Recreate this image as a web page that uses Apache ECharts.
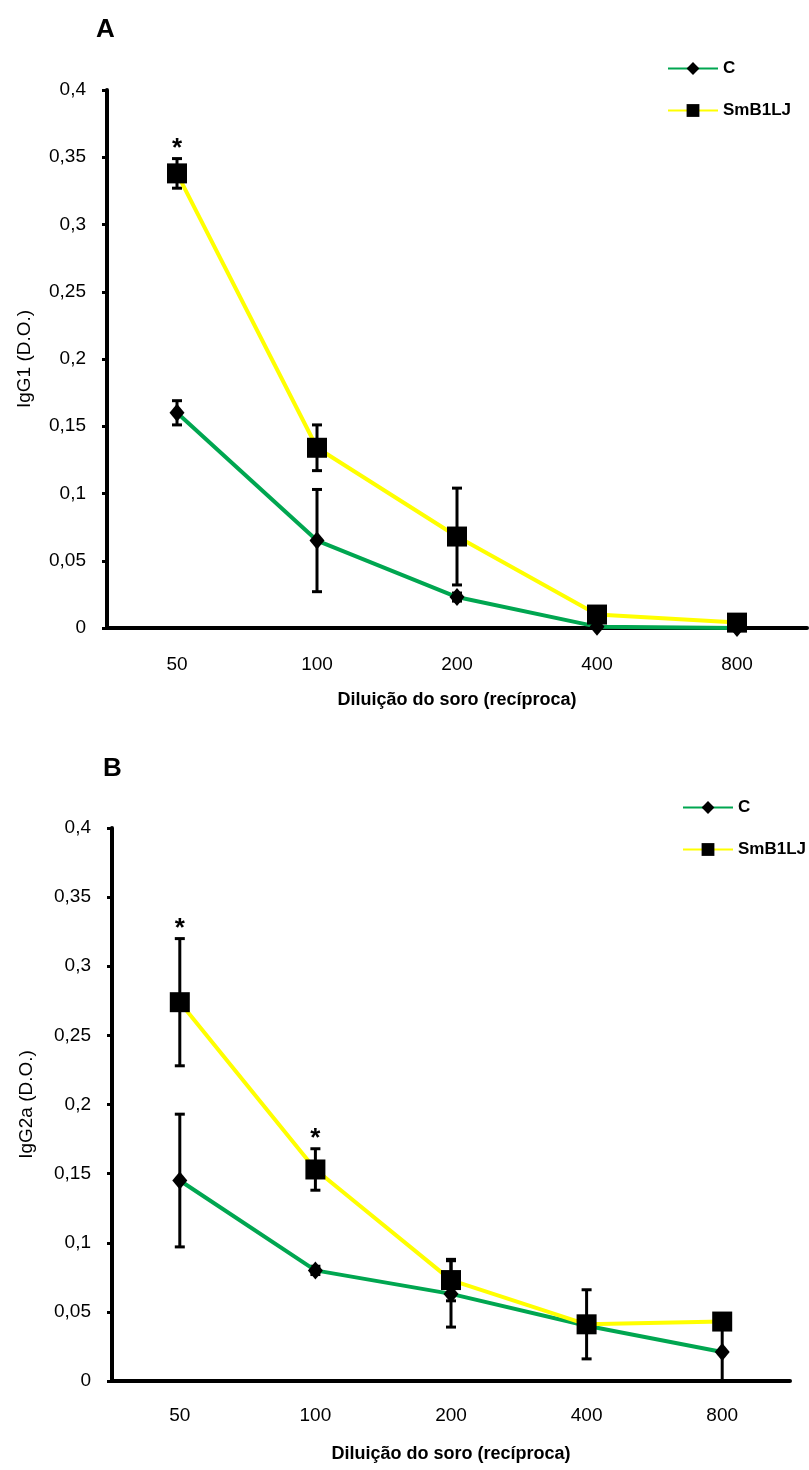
<!DOCTYPE html>
<html>
<head>
<meta charset="utf-8">
<script src="https://cdn.jsdelivr.net/npm/echarts@6/dist/echarts.min.js"></script>
<style>
  html, body { margin: 0; padding: 0; background: #fff; }
  #chart { width: 809px; height: 1470px; }
</style>
</head>
<body>
<div id="chart"></div>
<script>
// diluições (recíproca)
var categories = ['50', '100', '200', '400', '800'];

// painel A - IgG1
var igg1C      = [0.160, 0.065, 0.023, 0.001, 0.000];
var igg1CErr   = [0.009, 0.038, 0.003, 0.001, 0.001];
var igg1Sm     = [0.338, 0.134, 0.068, 0.010, 0.004];
var igg1SmErr  = [0.011, 0.017, 0.036, 0.002, 0.002];
var igg1Sig    = [1, 0, 0, 0, 0];

// painel B - IgG2a
var igg2aC     = [0.145, 0.080, 0.063, 0.040, 0.021];
var igg2aCErr  = [0.048, 0.003, 0.024, 0.004, 0.021];
var igg2aSm    = [0.274, 0.153, 0.073, 0.041, 0.043];
var igg2aSmErr = [0.046, 0.015, 0.015, 0.025, 0.004];
var igg2aSig   = [1, 1, 0, 0, 0];

var FONT = '"Liberation Sans", Arial, sans-serif';
var GREEN = '#00a650';
var YELLOW = '#ffff00';

function errData(mean, err, sig) {
	return mean.map(function (v, i) {
		return [i, Math.max(0, v - err[i]), v + err[i], sig ? sig[i] : 0];
	});
}

function renderErr(params, api) {
	var x = api.value(0);
	var lo = api.coord([x, api.value(1)]);
	var hi = api.coord([x, api.value(2)]);
	var cap = 5;
	var st = { stroke: '#000', lineWidth: 3 };
	var children = [
		{ type: 'line', shape: { x1: lo[0], y1: lo[1], x2: hi[0], y2: hi[1] }, style: st },
		{ type: 'line', shape: { x1: lo[0] - cap, y1: lo[1], x2: lo[0] + cap, y2: lo[1] }, style: st },
		{ type: 'line', shape: { x1: hi[0] - cap, y1: hi[1], x2: hi[0] + cap, y2: hi[1] }, style: st }
	];
	// asterisco de significância
	if (api.value(3)) {
		children.push({
			type: 'text',
			style: {
				text: '*', x: hi[0], y: hi[1] - 10,
				align: 'center', verticalAlign: 'middle',
				font: 'bold 26px ' + FONT, fill: '#000'
			}
		});
	}
	return { type: 'group', children: children };
}

function yAxis(grid, name, gap) {
	return {
		type: 'value', gridIndex: grid, min: 0, max: 0.4, interval: 0.05,
		name: name, nameLocation: 'middle', nameGap: gap, nameRotate: 90,
		nameTextStyle: { fontFamily: FONT, fontSize: 19, color: '#000' },
		splitLine: { show: false },
		axisLine: { show: true, lineStyle: { color: '#000', width: 4 } },
		axisTick: { show: true, length: 5, lineStyle: { color: '#000', width: 3 } },
		axisLabel: {
			margin: 21, fontFamily: FONT, fontSize: 19, color: '#000',
			formatter: function (v) { return String(+v.toFixed(2)).replace('.', ','); }
		}
	};
}

function xAxes(grid, gap, margin) {
	return [{
		type: 'category', gridIndex: grid, data: categories, boundaryGap: true,
		name: 'Diluição do soro (recíproca)', nameLocation: 'middle', nameGap: gap,
		nameTextStyle: { fontFamily: FONT, fontSize: 18, fontWeight: 'bold', color: '#000' },
		axisLine: { lineStyle: { color: '#000', width: 4 } },
		axisTick: { length: 5, interval: 0, lineStyle: { color: '#000', width: 3 } },
		axisLabel: { margin: margin, fontFamily: FONT, fontSize: 19, color: '#000', interval: 0 }
	}, {
		type: 'category', gridIndex: grid, data: categories, position: 'bottom',
		axisLine: { show: false },
		axisTick: { alignWithLabel: true, interval: 0, length: 5, lineStyle: { color: '#000', width: 3 } },
		axisLabel: { show: false }
	}];
}

function lineSeries(name, data, xi, yi, color, symbol, size) {
	return {
		name: name, type: 'line', data: data, xAxisIndex: xi, yAxisIndex: yi,
		symbol: symbol, symbolSize: size, z: 4,
		lineStyle: { color: color, width: 4 },
		itemStyle: { color: '#000' },
		emphasis: { disabled: true }
	};
}

function errSeries(data, xi, yi) {
	return {
		type: 'custom', renderItem: renderErr, data: data,
		xAxisIndex: xi, yAxisIndex: yi, z: 3, silent: true
	};
}

function legend(left, top) {
	return {
		left: left, top: top, orient: 'vertical', itemGap: 25,
		itemWidth: 50, itemHeight: 16, data: ['C', 'SmB1LJ'],
		textStyle: { fontFamily: FONT, fontSize: 17, fontWeight: 'bold', color: '#000' }
	};
}

var chart = echarts.init(document.getElementById('chart'));
chart.setOption({
	animation: false,
	backgroundColor: '#fff',
	title: [
		{ text: 'A', left: 91, top: 12, textStyle: { fontFamily: FONT, fontSize: 26, fontWeight: 'bold', color: '#000' } },
		{ text: 'B', left: 98, top: 751, textStyle: { fontFamily: FONT, fontSize: 26, fontWeight: 'bold', color: '#000' } }
	],
	legend: [legend(662, 55), legend(677, 794)],
	grid: [
		{ left: 107, right: 2, top: 90, height: 538 },
		{ left: 112, right: 19, top: 828, height: 553 }
	],
	xAxis: xAxes(0, 63, 27).concat(xAxes(1, 64, 25)),
	yAxis: [yAxis(0, 'IgG1 (D.O.)', 73), yAxis(1, 'IgG2a (D.O.)', 76)],
	series: [
		lineSeries('C', igg1C, 0, 0, GREEN, 'diamond', [15, 18]),
		lineSeries('SmB1LJ', igg1Sm, 0, 0, YELLOW, 'rect', 20),
		errSeries(errData(igg1C, igg1CErr), 0, 0),
		errSeries(errData(igg1Sm, igg1SmErr, igg1Sig), 0, 0),
		lineSeries('C', igg2aC, 2, 1, GREEN, 'diamond', [15, 18]),
		lineSeries('SmB1LJ', igg2aSm, 2, 1, YELLOW, 'rect', 20),
		errSeries(errData(igg2aC, igg2aCErr), 2, 1),
		errSeries(errData(igg2aSm, igg2aSmErr, igg2aSig), 2, 1)
	]
});
</script>
</body>
</html>
